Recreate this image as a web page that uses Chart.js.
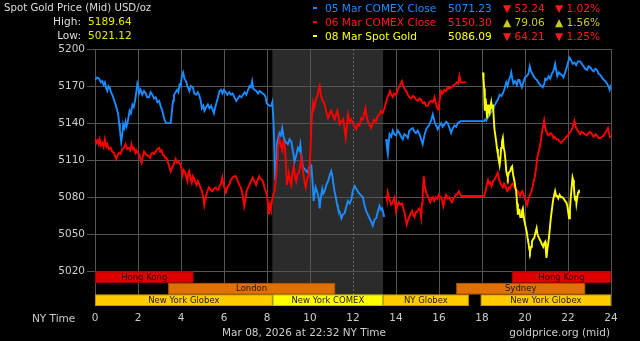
<!DOCTYPE html>
<html>
<head>
<meta charset="utf-8">
<script src="https://cdn.jsdelivr.net/npm/chart.js@4.4.1/dist/chart.umd.min.js"></script>
<style>
html, body { margin: 0; padding: 0; background: #000; }
#wrap { position: relative; width: 640px; height: 341px; overflow: hidden; font-family: "DejaVu Sans", sans-serif; }
canvas { position: absolute; left: 0; top: 0; }
.t { position: absolute; white-space: nowrap; font-size: 10.6px; line-height: 13px; }
.s { position: absolute; white-space: nowrap; font-size: 10.5px; line-height: 12px; color: #ccc; }
.mk { position: absolute; left: 313px; width: 4px; height: 2px; }
</style>
</head>
<body>
<div id="wrap">
  <canvas id="goldChart" width="640" height="341"></canvas>

  <div class="t" style="left:4px;top:1px;color:#ddd;font-size:10.2px;">Spot Gold Price (Mid) USD/oz</div>
  <div class="t" style="left:30px;width:51px;text-align:right;top:15px;color:#ddd;">High:</div>
  <div class="t" style="left:88px;top:15px;color:#e6e600;">5189.64</div>
  <div class="t" style="left:30px;width:51px;text-align:right;top:29px;color:#ddd;">Low:</div>
  <div class="t" style="left:88px;top:29px;color:#e6e600;">5021.12</div>

  <div class="mk" style="top:7px;background:#1a8cff;"></div>
  <div class="mk" style="top:21px;background:#ff0000;"></div>
  <div class="mk" style="top:35px;background:#ffff00;"></div>

  <div class="t" style="left:325px;top:2px;color:#1a8cff;">05 Mar COMEX Close</div>
  <div class="t" style="left:448px;top:2px;color:#1a8cff;">5071.23</div>
  <div class="t" style="left:503px;top:2px;color:#ff1a1a;">▼ 52.24</div>
  <div class="t" style="left:555px;top:2px;color:#ff1a1a;">▼ 1.02%</div>

  <div class="t" style="left:325px;top:16px;color:#ff1a1a;">06 Mar COMEX Close</div>
  <div class="t" style="left:448px;top:16px;color:#ff1a1a;">5150.30</div>
  <div class="t" style="left:503px;top:16px;color:#c8c820;">▲ 79.06</div>
  <div class="t" style="left:555px;top:16px;color:#c8c820;">▲ 1.56%</div>

  <div class="t" style="left:325px;top:30px;color:#ffff00;">08 Mar Spot Gold</div>
  <div class="t" style="left:448px;top:30px;color:#ffff00;">5086.09</div>
  <div class="t" style="left:503px;top:30px;color:#ff1a1a;">▼ 64.21</div>
  <div class="t" style="left:555px;top:30px;color:#ff1a1a;">▼ 1.25%</div>

  <div class="s" style="left:32px;top:312px;">NY Time</div>
  <div class="s" style="left:222px;top:326px;">Mar 08, 2026 at 22:32 NY Time</div>
  <div class="s" style="right:30px;top:326px;">goldprice.org (mid)</div>
</div>

<script>
// 05 Mar COMEX Close (blue) - null = break in the line
const blueHours = [0.00,0.10,0.19,0.27,0.34,0.40,0.46,0.52,0.57,0.63,0.68,0.74,0.80,0.88,0.96,1.02,1.08,1.12,1.16,1.22,1.27,1.31,1.36,1.42,1.46,1.50,1.56,1.61,1.67,1.74,1.80,1.86,1.92,1.97,2.02,2.05,2.12,2.20,2.28,2.36,2.43,2.51,2.59,2.67,2.74,2.82,2.90,2.98,3.05,3.13,3.20,3.25,3.32,3.40,3.52,3.56,3.59,3.63,3.67,3.75,3.82,3.88,3.93,3.98,4.04,4.10,4.16,4.23,4.30,4.39,4.46,4.55,4.62,4.70,4.78,4.86,4.92,4.97,5.04,5.09,5.17,5.25,5.32,5.40,5.47,5.53,5.58,5.64,5.72,5.79,5.86,5.93,6.00,6.08,6.16,6.24,6.32,6.40,6.48,6.57,6.65,6.72,6.80,6.88,6.96,7.04,7.12,7.19,7.25,7.31,7.36,7.42,7.50,7.58,7.66,7.73,7.80,7.88,7.94,7.98,8.05,8.12,8.20,8.25,8.30,8.35,8.38,8.42,8.46,8.52,8.58,8.64,8.71,8.76,8.82,8.90,8.97,9.05,9.13,9.20,9.28,9.36,9.44,9.50,9.55,9.61,9.67,9.75,9.83,9.90,9.95,10.01,10.06,10.12,10.17,10.22,10.26,10.32,10.37,10.42,10.45,10.50,10.57,10.62,10.68,10.76,10.84,10.92,10.99,11.04,11.07,11.14,11.20,11.26,11.30,11.38,11.46,11.52,11.61,11.68,11.77,11.85,11.92,11.99,12.08,12.15,12.25,12.35,12.46,12.53,12.61,12.69,12.77,12.85,12.92,13.00,13.08,13.15,13.23,13.30,13.35,13.40,13.45,13.50,13.54,13.58,13.62,13.66,13.70,13.78,13.85,13.92,14.00,14.08,14.16,14.24,14.31,14.39,14.47,14.55,14.62,14.70,14.78,14.86,14.93,15.01,15.09,15.17,15.24,15.32,15.40,15.48,15.55,15.63,15.71,15.77,15.83,15.90,15.94,16.02,16.10,16.17,16.25,16.33,16.41,16.49,16.56,16.64,16.72,16.80,16.87,16.95,17.00,18.10,18.15,18.20,18.28,18.35,18.43,18.51,18.58,18.66,18.74,18.82,18.90,18.97,19.05,19.13,19.19,19.25,19.31,19.36,19.41,19.46,19.54,19.62,19.68,19.74,19.80,19.85,19.92,20.00,20.08,20.16,20.22,20.28,20.34,20.40,20.48,20.55,20.62,20.70,20.77,20.83,20.90,20.94,21.02,21.10,21.17,21.25,21.32,21.40,21.45,21.50,21.57,21.63,21.71,21.79,21.86,21.94,22.00,22.07,22.14,22.22,22.30,22.38,22.46,22.57,22.64,22.72,22.80,22.88,22.96,23.04,23.12,23.19,23.27,23.35,23.42,23.50,23.58,23.66,23.74,23.81,23.88,23.94,24.00];
const blueVals = [5175,5177,5176,5173,5174,5171,5173,5168,5166,5170,5169,5165,5163,5159,5155,5151,5147,5140,5134,5125,5131,5139,5136,5141,5137,5139,5145,5150,5148,5155,5153,5158,5165,5172,5169,5164,5167,5163,5166,5164,5161,5161,5165,5163,5160,5161,5157,5158,5154,5150,5145,5142,5140,5140,5140,5146,5152,5158,5163,5165,5167,5165,5171,5170,5178,5181,5176,5174,5170,5166,5170,5169,5164,5163,5165,5162,5158,5152,5154,5150,5153,5155,5152,5154,5151,5148,5152,5156,5161,5166,5167,5164,5167,5165,5163,5165,5163,5164,5161,5158,5160,5162,5161,5163,5165,5163,5167,5170,5169,5174,5168,5167,5166,5164,5166,5165,5164,5163,5161,5156,5155,5154,5154,5157,5142,5117,5094,5110,5123,5128,5132,5130,5136,5130,5126,5124,5123,5127,5125,5118,5109,5114,5120,5118,5123,5112,5104,5103,5101,5100,5104,5106,5106,5092,5077,5084,5088,5085,5082,5078,5071,5079,5087,5083,5085,5090,5093,5098,5101,5097,5093,5085,5080,5074,5071,5068,5063,5066,5067,5072,5077,5075,5078,5085,5089,5087,5084,5082,5080,5074,5069,5066,5063,5060,5057,5062,5063,5068,5073,5070,5071,5068,5064,null,5127,5120,5115,5124,5131,5129,5134,5131,5130,5134,5132,5129,5127,5131,5130,5128,5134,5135,5136,5133,5132,5134,5131,5127,5123,5130,5135,5137,5139,5142,5147,5143,5139,5137,5135,5138,5140,5137,5139,5141,5140,5136,5132,5136,5138,5137,5140,5141,5141.6,5141.6,5143,5142,5145,5147,5149,5151,5154,5157,5159,5163,5162,5164,5168,5173,5170,5175,5177,5181,5176,5172,5174,5171,5175,5175,5171,5169,5173,5177,5178,5180,5186,5182,5180,5178,5176,5175,5173,5171,5170,5169,5172,5176,5175,5178,5176,5180,5182,5188,5183,5178,5181,5180,5179,5177,5181,5185,5189,5193,5191,5188,5189,5187,5190,5190,5188,5186,5184,5183,5186,5185,5183,5182,5184,5183,5180,5179,5177,5175,5174,5172,5170,5167,5171];

// 06 Mar COMEX Close (red), first trace
const redHoursA = [0.00,0.06,0.12,0.17,0.22,0.28,0.34,0.40,0.46,0.52,0.57,0.65,0.73,0.80,0.88,0.94,0.99,1.05,1.11,1.19,1.27,1.35,1.42,1.50,1.58,1.64,1.70,1.76,1.81,1.88,1.92,1.98,2.05,2.11,2.17,2.22,2.28,2.36,2.44,2.50,2.55,2.61,2.67,2.75,2.82,2.90,2.98,3.04,3.10,3.16,3.21,3.27,3.32,3.38,3.44,3.48,3.52,3.58,3.63,3.69,3.75,3.81,3.88,3.94,3.99,4.04,4.07,4.13,4.20,4.25,4.30,4.34,4.38,4.44,4.50,4.55,4.61,4.67,4.72,4.78,4.84,4.90,4.97,5.03,5.08,5.12,5.16,5.23,5.30,5.38,5.46,5.54,5.62,5.68,5.74,5.79,5.84,5.92,5.97,6.02,6.09,6.16,6.24,6.32,6.40,6.48,6.55,6.62,6.71,6.77,6.83,6.89,6.94,7.00,7.05,7.12,7.18,7.25,7.33,7.41,7.49,7.56,7.64,7.70,7.77,7.83,7.88,7.94,7.99,8.04,8.08,8.14,8.18,8.23,8.29,8.35,8.39,8.43,8.47,8.50,8.54,8.58,8.64,8.71,8.76,8.82,8.87,8.93,8.98,9.02,9.08,9.13,9.18,9.24,9.30,9.36,9.42,9.49,9.55,9.60,9.66,9.71,9.76,9.80,9.85,9.91,9.95,9.99,10.03,10.06,10.10,10.14,10.18,10.22,10.28,10.33,10.39,10.45,10.49,10.53,10.60,10.68,10.76,10.84,10.92,10.99,11.07,11.15,11.21,11.27,11.33,11.38,11.46,11.54,11.60,11.66,11.72,11.77,11.84,11.92,11.99,12.07,12.15,12.22,12.30,12.38,12.46,12.52,12.58,12.63,12.68,12.76,12.84,12.92,12.99,13.07,13.15,13.23,13.30,13.38,13.46,13.54,13.62,13.67,13.72,13.78,13.85,13.92,14.00,14.08,14.16,14.22,14.28,14.34,14.39,14.47,14.55,14.62,14.70,14.78,14.86,14.93,15.01,15.09,15.17,15.24,15.32,15.40,15.48,15.55,15.63,15.71,15.79,15.85,15.90,15.96,15.99,16.04,16.10,16.17,16.25,16.33,16.41,16.49,16.56,16.64,16.72,16.78,16.83,16.90,16.95,17.00,17.03,17.26];
const redValsA = [5128,5124,5126,5123,5127,5122,5124,5121,5127,5121,5123,5119,5120,5117,5116,5113,5111,5114,5116,5115,5119,5120,5123,5119,5120,5118,5123,5119,5120,5116,5118,5116,5115,5111,5108,5113,5117,5115,5114,5113,5112,5115,5116,5115,5117,5119,5120,5117,5118,5114,5114,5112,5112,5109,5106,5103,5101,5104,5105,5108,5111,5108,5109,5107,5106,5101,5098,5102,5100,5096,5093,5099,5101,5096,5092,5097,5095,5092,5090,5093,5091,5088,5085,5080,5074,5079,5081,5085,5088,5086,5085,5087,5088,5086,5086,5089,5090,5096,5091,5088,5084,5088,5090,5094,5096,5097,5097,5094,5090,5088,5085,5079,5073,5079,5085,5088,5090,5093,5096,5093,5090,5094,5097,5095,5094,5092,5088,5085,5082,5076,5066,5074,5071,5077,5082,5085,5091,5097,5110,5120,5124,5127,5122,5118,5125,5123,5110,5090,5097,5098,5093,5090,5099,5105,5097,5093,5099,5100,5106,5112,5103,5097,5091,5088,5093,5097,5102,5106,5122,5136,5148,5156,5152,5154,5160,5161,5166,5170,5164,5161,5158,5155,5149,5144,5148,5150,5146,5143,5147,5150,5145,5139,5141,5143,5136,5128,5138,5147,5141,5143,5140,5137,5135,5139,5138,5144,5143,5148,5152,5146,5142,5139,5136,5140,5143,5141,5146,5147,5150,5148,5152,5157,5162,5163,5166,5163,5161,5164,5163,5167,5170,5172,5174,5170,5168,5166,5163,5161,5160,5162,5161,5159,5158,5160,5159,5156,5157,5154,5154,5157,5158,5157,5161,5156,5153,5151,5153,5160,5166,5164,5167,5166,5169,5168,5169,5170,5171,5172,5173,5172,5178,5174,5173,5173];

// 06 Mar COMEX Close (red), second trace
const redHoursB = [13.54,13.58,13.62,13.67,13.72,13.77,13.82,13.88,13.93,13.97,14.00,14.06,14.13,14.20,14.28,14.34,14.39,14.45,14.50,14.56,14.62,14.68,14.75,14.80,14.86,14.92,14.97,15.03,15.09,15.13,15.17,15.21,15.24,15.29,15.33,15.37,15.42,15.48,15.54,15.59,15.65,15.71,15.78,15.86,15.92,15.99,16.05,16.10,16.15,16.20,16.26,16.33,16.41,16.49,16.55,16.61,16.67,16.72,16.78,16.83,16.92,16.97,17.03,18.10,18.17,18.22,18.28,18.33,18.38,18.44,18.51,18.57,18.63,18.68,18.73,18.79,18.84,18.90,18.97,19.03,19.09,19.14,19.19,19.25,19.30,19.36,19.42,19.48,19.54,19.60,19.66,19.72,19.77,19.83,19.88,19.94,20.00,20.05,20.10,20.15,20.21,20.28,20.34,20.40,20.46,20.52,20.57,20.62,20.68,20.74,20.80,20.85,20.89,20.94,20.98,21.04,21.10,21.18,21.26,21.32,21.38,21.46,21.53,21.61,21.69,21.76,21.84,21.92,22.00,22.07,22.15,22.22,22.30,22.36,22.41,22.49,22.57,22.64,22.72,22.80,22.88,22.96,23.03,23.11,23.19,23.27,23.35,23.42,23.50,23.58,23.66,23.72,23.77,23.86,23.92,23.97];
const redValsB = [5081,5078,5084,5080,5077,5074,5075,5078,5080,5074,5069,5073,5076,5074,5075,5071,5068,5062,5058,5062,5064,5067,5069,5066,5064,5068,5068,5070,5071,5069,5064,5075,5080,5097,5090,5086,5083,5081,5078,5076,5079,5080,5077,5080,5079,5082,5080,5080,5077,5073,5078,5082,5079,5080,5077,5076,5079,5080,5082,5082,5085,5083,5081,5081,5085,5090,5094,5091,5092,5089,5093,5094,5096,5098,5100,5095,5092,5090,5088,5091,5089,5086,5085,5088,5087,5090,5091,5089,5087,5086,5085,5083,5081,5084,5085,5082,5078,5077,5074,5078,5081,5084,5087,5093,5097,5104,5112,5116,5120,5126,5134,5138,5142,5136,5134,5131,5130,5132,5131,5128,5129,5127,5127,5125,5124,5126,5127,5129,5130,5132,5134,5137,5142,5137,5135,5133,5131,5133,5132,5131,5130,5132,5133,5131,5129,5131,5130,5128,5128,5129,5130,5132,5133,5136,5131,5128];

// 08 Mar Spot Gold (yellow)
const yellowHours = [18.05,18.07,18.10,18.13,18.17,18.20,18.24,18.28,18.31,18.35,18.39,18.43,18.47,18.51,18.55,18.58,18.62,18.66,18.70,18.74,18.78,18.82,18.86,18.89,18.93,18.97,19.01,19.05,19.09,19.13,19.17,19.20,19.25,19.31,19.36,19.40,19.45,19.51,19.55,19.59,19.63,19.67,19.71,19.74,19.78,19.82,19.86,19.90,19.94,19.97,20.03,20.08,20.13,20.17,20.20,20.23,20.28,20.32,20.37,20.43,20.48,20.54,20.58,20.63,20.68,20.74,20.79,20.85,20.90,20.94,20.97,21.00,21.04,21.09,21.14,21.20,21.25,21.31,21.36,21.40,21.45,21.50,21.55,21.61,21.67,21.74,21.80,21.86,21.92,21.97,22.01,22.05,22.09,22.13,22.17,22.21,22.24,22.27,22.30,22.33,22.36,22.39,22.43,22.47,22.51];
const yellowVals = [5181,5176,5168,5150,5160,5152,5144,5155,5150,5148,5153,5157,5152,5155,5143,5135,5130,5125,5119,5115,5110,5106,5112,5120,5125,5128,5120,5117,5110,5101,5098,5096,5100,5101,5104,5105,5098,5093,5088,5085,5075,5066,5070,5070,5064,5064,5069,5071,5065,5061,5056,5052,5046,5042,5038,5036,5040,5044,5046,5047,5051,5055,5050,5048,5046,5044,5042,5040,5043,5044,5037,5031,5038,5044,5052,5063,5070,5078,5082,5085,5081,5081,5079,5082,5080,5080,5079,5077,5076,5073,5068,5063,5070,5080,5088,5096,5094,5090,5082,5078,5081,5075,5080,5084,5086];

// axes
const xTicks = [0,2,4,6,8,10,12,14,16,18,20,22,24];
const yTicks = [5020,5050,5080,5110,5140,5170,5200];
const yMin = 4992;
const comexShade = [8.25, 13.4];

// market sessions strip under the chart
const sessionNames = ['Hong Kong','London','New York Globex','New York COMEX','NY Globex','New York Globex','Sydney','Hong Kong'];
const sessionStart = [0, 3.4, 0, 8.27, 13.39, 17.94, 16.8, 19.39];
const sessionEnd   = [4.58, 11.17, 8.27, 13.39, 17.39, 24, 22.8, 24];
const sessionRow   = [0, 1, 2, 2, 2, 2, 1, 0];

const sessionColor = {
    'Hong Kong': '#e00000',
    'London': '#e07000',
    'Sydney': '#e07000',
    'New York Globex': '#ffcc00',
    'NY Globex': '#ffcc00',
    'New York COMEX': '#ffff00'
};

function toPoints(hours, vals) {
    return hours.map((h, i) => ({ x: h, y: vals[i] }));
}

const goldPlugin = {
    id: 'goldExtras',
    beforeDraw(chart) {
        // grey COMEX band
        const { ctx, chartArea, scales: { x } } = chart;
        const x0 = x.getPixelForValue(comexShade[0]);
        const x1 = x.getPixelForValue(comexShade[1]);
        ctx.save();
        ctx.fillStyle = '#2b2b2b';
        ctx.fillRect(x0, chartArea.top, x1 - x0, chartArea.bottom - chartArea.top);
        ctx.restore();
    },
    beforeDatasetsDraw(chart) {
        // noon line is dotted
        const { ctx, chartArea, scales: { x } } = chart;
        const px = Math.round(x.getPixelForValue(12)) + 0.5;
        ctx.save();
        ctx.strokeStyle = '#666';
        ctx.lineWidth = 1;
        ctx.setLineDash([2, 2]);
        ctx.beginPath();
        ctx.moveTo(px, chartArea.top);
        ctx.lineTo(px, chartArea.bottom);
        ctx.stroke();
        ctx.restore();
    },
    afterDraw(chart) {
        const { ctx, chartArea, scales: { x, y } } = chart;
        const top = y.getPixelForValue(yTicks[0]);
        const rowH = (chartArea.bottom - top) / 3;
        ctx.save();
        ctx.font = '8.5px "DejaVu Sans", sans-serif';
        ctx.textAlign = 'center';
        ctx.textBaseline = 'middle';
        sessionNames.forEach((name, i) => {
            const x0 = x.getPixelForValue(sessionStart[i]);
            const x1 = x.getPixelForValue(sessionEnd[i]);
            const y0 = top + sessionRow[i] * rowH;
            ctx.fillStyle = sessionColor[name];
            ctx.fillRect(x0, y0, x1 - x0, rowH);
            ctx.strokeStyle = 'rgba(0,0,0,0.25)';
            ctx.lineWidth = 1;
            ctx.strokeRect(x0 + 0.5, y0 + 0.5, x1 - x0 - 1, rowH - 1);
            ctx.fillStyle = name === 'Hong Kong' ? '#200000' : '#201800';
            ctx.fillText(name, (x0 + x1) / 2, y0 + rowH / 2 + 0.5);
        });
        ctx.restore();
    }
};

new Chart(document.getElementById('goldChart'), {
    type: 'line',
    data: {
        datasets: [
            {
                label: '08 Mar Spot Gold',
                data: toPoints(yellowHours, yellowVals),
                borderColor: '#ffff00',
                order: 1
            },
            {
                label: '06 Mar COMEX Close',
                data: toPoints(redHoursA, redValsA),
                borderColor: '#ff0000',
                order: 2
            },
            {
                label: '06 Mar COMEX Close',
                data: toPoints(redHoursB, redValsB),
                borderColor: '#ff0000',
                order: 2
            },
            {
                label: '05 Mar COMEX Close',
                data: toPoints(blueHours, blueVals),
                borderColor: '#1a8cff',
                order: 3
            }
        ]
    },
    options: {
        responsive: false,
        animation: false,
        spanGaps: false,
        elements: {
            point: { radius: 0 },
            line: { borderWidth: 1.9, tension: 0 }
        },
        layout: { padding: { top: 49, right: 29, left: 0, bottom: 0 } },
        scales: {
            x: {
                type: 'linear',
                min: 0,
                max: 24,
                afterFit: s => { s.height = 35; },
                afterBuildTicks: s => { s.ticks = xTicks.map(v => ({ value: v })); },
                border: { display: false },
                grid: {
                    drawTicks: false,
                    color: c => (c.tick && c.tick.value === 12) ? 'rgba(0,0,0,0)' : '#555'
                },
                ticks: {
                    padding: 6,
                    maxRotation: 0,
                    color: '#ccc',
                    font: { family: '"DejaVu Sans"', size: 10.5 },
                    callback: v => String(v)
                }
            },
            y: {
                min: yMin,
                max: 5200,
                afterFit: s => { s.width = 95; },
                afterBuildTicks: s => { s.ticks = yTicks.map(v => ({ value: v })); },
                border: { display: false },
                grid: { color: '#555', tickLength: 8 },
                ticks: {
                    padding: 2,
                    color: '#ccc',
                    font: { family: '"DejaVu Sans"', size: 10.5 },
                    callback: v => String(v)
                }
            }
        },
        plugins: {
            legend: { display: false },
            tooltip: { enabled: false }
        }
    },
    plugins: [goldPlugin]
});
</script>
</body>
</html>
